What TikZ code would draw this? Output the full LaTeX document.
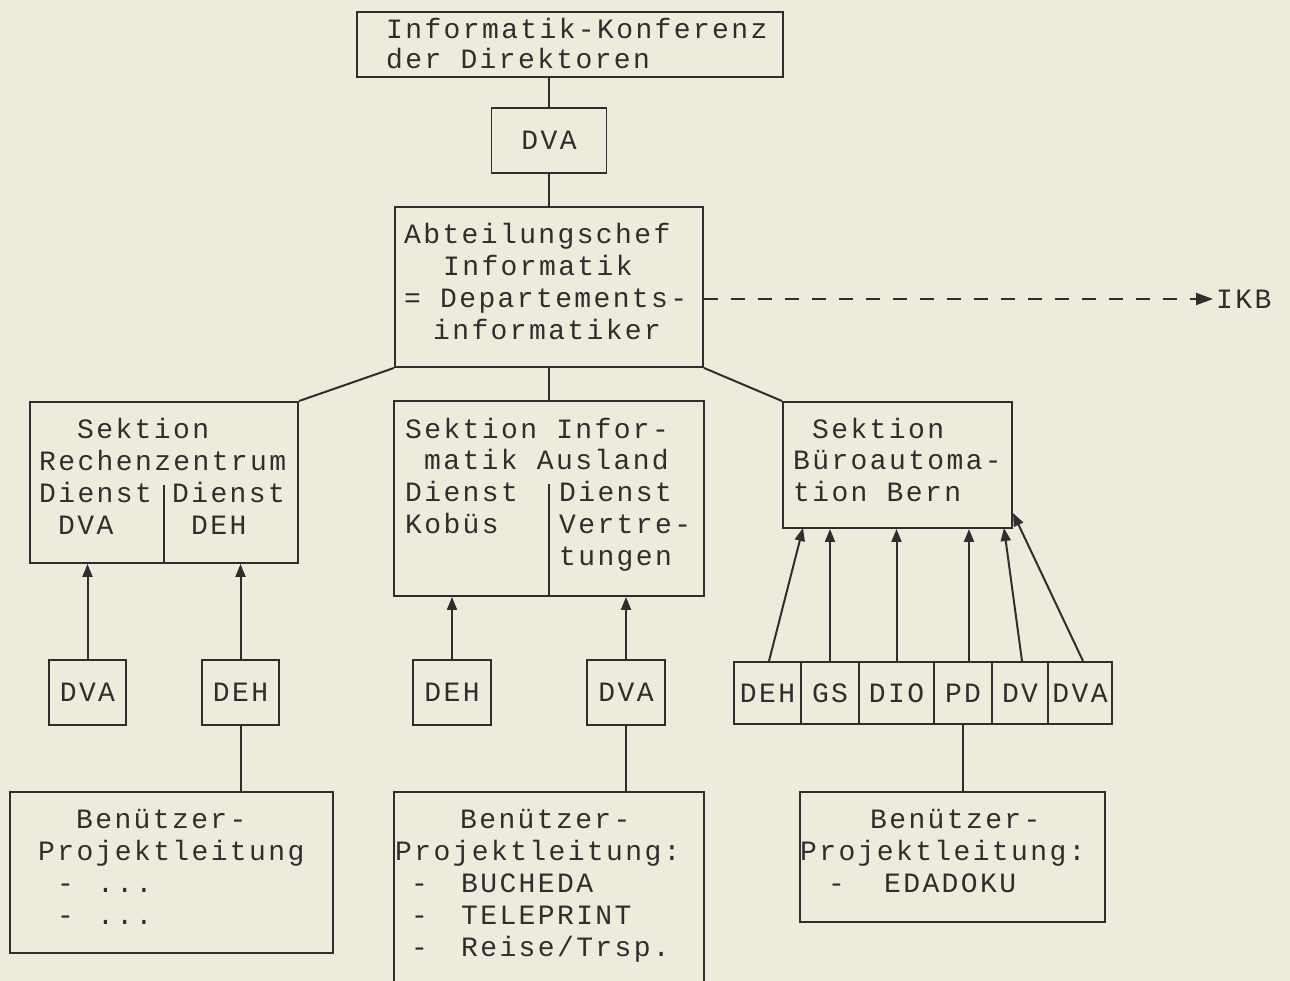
\documentclass[tikz,border=0pt]{standalone}
\usepackage{fontspec}
\newfontfamily\plotfont[LetterSpace=8.5]{Liberation Mono}
\usetikzlibrary{arrows.meta}
\definecolor{paper}{HTML}{EFEBDC}
\definecolor{ink}{HTML}{2E2E2E}
\begin{document}
\begin{tikzpicture}[x=1pt,y=-1pt,
  box/.style={draw=ink, line width=1.9pt, inner sep=0pt, text=ink, font=\plotfont\fontsize{28}{32}\selectfont},
  txt/.style={anchor=base west, inner sep=0pt, text=ink, font=\plotfont\fontsize{28}{32}\selectfont},
  conn/.style={draw=ink, line width=2pt},
  arr/.style={conn, -{Triangle[length=13pt,width=10pt]}},
]
\useasboundingbox (0,0) rectangle (1290,981);
\fill[paper] (0,0) rectangle (1290,981);
\clip (0,0) rectangle (1290,981);

% boxes
\node[box, minimum width=426, minimum height=65] (top) at (570,44.5) {};
\node[box, minimum width=115, minimum height=65] (dva0) at (549,140.5) {DVA};
\node[box, minimum width=308, minimum height=160] (abt) at (549,287) {};
\node[box, minimum width=268, minimum height=161] (sek1) at (164,482.5) {};
\node[box, minimum width=310, minimum height=195] (sek2) at (549,498.5) {};
\node[box, minimum width=229, minimum height=126] (sek3) at (897.5,465) {};
\node[box, minimum width=77, minimum height=65] (d1) at (87.5,692.5) {DVA};
\node[box, minimum width=77, minimum height=65] (d2) at (240.5,692.5) {DEH};
\node[box, minimum width=78, minimum height=65] (d3) at (452,692.5) {DEH};
\node[box, minimum width=78, minimum height=65] (d4) at (626,692.5) {DVA};
\node[box, minimum width=67, minimum height=62] (r1) at (767.5,693) {DEH};
\node[box, minimum width=58, minimum height=62] (r2) at (830,693) {GS};
\node[box, minimum width=75, minimum height=62] (r3) at (896.5,693) {DIO};
\node[box, minimum width=58, minimum height=62] (r4) at (963,693) {PD};
\node[box, minimum width=56, minimum height=62] (r5) at (1020,693) {DV};
\node[box, minimum width=64, minimum height=62] (r6) at (1080,693) {DVA};
\node[box, minimum width=323, minimum height=161] (bu1) at (171.5,872.5) {};
\node[box, minimum width=310, minimum height=218] (bu2) at (549,901) {};
\node[box, minimum width=305, minimum height=130] (bu3) at (952.5,857) {};

% texts
\node[txt] (ta) at (386,39) {Informatik-Konferenz};
\node[txt] (tb) at (386,69) {der Direktoren};
\node[txt] (aa) at (404,244) {Abteilungschef};
\node[txt] (ab) at (443,276) {Informatik};
\node[txt] (ac) at (404,308) {= Departements-};
\node[txt] (ad) at (433,340) {informatiker};
\node[txt] (sa) at (77,438) {Sektion};
\node[txt] (sb) at (39,470) {Rechenzentrum};
\node[txt] (sc) at (39,502) {Dienst};
\node[txt] (sd) at (58,534) {DVA};
\node[txt] (se) at (172,502) {Dienst};
\node[txt] (sf) at (191,534) {DEH};
\node[txt] (ma) at (405,438) {Sektion Infor-};
\node[txt] (mb) at (424,469) {matik Ausland};
\node[txt] (mc) at (405,501) {Dienst};
\node[txt] (md) at (405,533) {Kobüs};
\node[txt] (me) at (559,501) {Dienst};
\node[txt] (mf) at (559,533) {Vertre-};
\node[txt] (mg) at (559,565) {tungen};
\node[txt] (ra) at (812,438) {Sektion};
\node[txt] (rb) at (793,469) {Büroautoma-};
\node[txt] (rc) at (793,501) {tion Bern};
\node[txt] (ba) at (76,828) {Benützer-};
\node[txt] (bb) at (38,860) {Projektleitung};
\node[txt] (bc) at (57,892) {-\hspace{4pt} ...};
\node[txt] (bd) at (57,924) {-\hspace{4pt} ...};
\node[txt] (ca) at (460,828) {Benützer-};
\node[txt] (cb) at (395,860) {Projektleitung:};
\node[txt] (cc) at (411,892) {-\hspace{14pt} BUCHEDA};
\node[txt] (cd) at (411,924) {-\hspace{14pt} TELEPRINT};
\node[txt] (ce) at (411,956) {-\hspace{14pt} Reise/Trsp.};
\node[txt] (ea) at (870,828) {Benützer-};
\node[txt] (eb) at (800,860) {Projektleitung:};
\node[txt] (ec) at (828,892) {-\hspace{20pt} EDADOKU};
\node[txt, anchor=west] (ikb) at (1216,299) {IKB};

% dividers
\draw[conn] (sek1.south) -- ++(0,-79);
\draw[conn] (sek2.south) -- ++(0,-113);

% connectors
\draw[conn] (dva0.north) -- (dva0.north |- top.south);
\draw[conn] (dva0.south) -- (abt.north);
\draw[conn] (abt.south west) -- (sek1.north east);
\draw[conn] (abt.south) -- (sek2.north);
\draw[conn] (abt.south east) -- (sek3.north west);
\draw[conn, dash pattern=on 14pt off 13pt, -{Triangle[length=17pt,width=12pt]}, shorten >=3pt] ([yshift=-12pt]abt.east) -- (ikb.west);

\draw[arr] (d1.north) -- (d1.north |- sek1.south);
\draw[arr] (d2.north) -- (d2.north |- sek1.south);
\draw[arr] (d3.north) -- (d3.north |- sek2.south);
\draw[arr] (d4.north) -- (d4.north |- sek2.south);
\draw[conn] (d2.south) -- (d2.south |- bu1.north);
\draw[conn] (d4.south) -- (d4.south |- bu2.north);

\coordinate (t1) at (803,528);
\coordinate (t5) at (1004,528);
\coordinate (t6) at (1013,513);
\draw[arr] ([xshift=1.5pt]r1.north) -- (t1);
\draw[arr] (r2.north) -- (r2.north |- sek3.south);
\draw[arr] (r3.north) -- (r3.north |- sek3.south);
\draw[arr] ([xshift=6pt]r4.north) -- ([xshift=6pt]r4.north |- sek3.south);
\draw[arr] ([xshift=2pt]r5.north) -- (t5);
\draw[arr] ([xshift=3pt]r6.north) -- (t6);
\draw[conn] (r4.south) -- (r4.south |- bu3.north);
\end{tikzpicture}
\end{document}
